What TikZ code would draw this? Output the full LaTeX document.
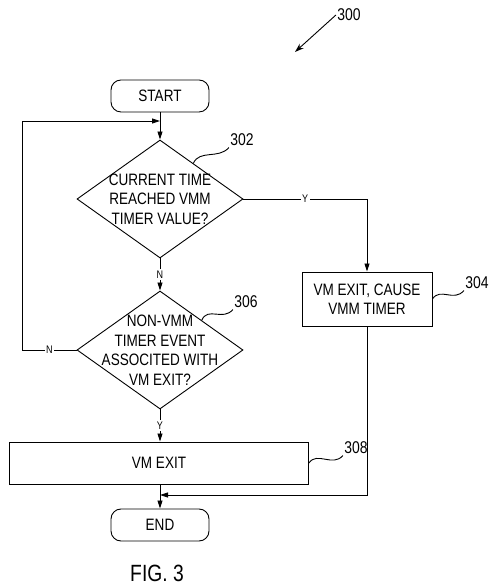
\documentclass[tikz,border=0pt]{standalone}
\usepackage{fontspec}
\setmainfont{Liberation Sans}[FakeStretch=0.82]
\usepackage{tikz}
\usetikzlibrary{shapes.geometric,arrows.meta,calc}
\newcommand{\bigtext}{\fontsize{16.5}{19.5}\selectfont}
\newcommand{\reftext}{\fontsize{17}{20}\selectfont}
\newcommand{\yntext}{\fontsize{11}{13}\selectfont}
\newcommand{\figtext}{\fontsize{23.5}{28}\selectfont}

\begin{document}
\begin{tikzpicture}[x=1pt, y=1pt, line width=0.9pt,
  >={Triangle[length=8pt,width=5pt]},
  term/.style={draw, rounded corners=10pt, minimum width=98pt, minimum height=32pt, font=\bigtext},
  stepbox/.style={draw, align=center, font=\bigtext},
  decision/.style={draw, diamond, inner sep=-20pt, align=center, font=\bigtext,
    minimum width=166pt, minimum height=118pt},
  ref/.style={inner sep=1pt, font=\reftext},
  yn/.style={fill=white, inner sep=1.5pt, font=\yntext}]
\useasboundingbox (0,0) rectangle (493,585);

\node[term] (start) at (160,489) {START};
\node[decision] (d302) at (160,386) {CURRENT TIME\\REACHED VMM\\TIMER VALUE?};
\node[stepbox, minimum width=130pt, minimum height=54pt] (b304) at (367,286) {VM EXIT, CAUSE\\VMM TIMER};
\node[decision] (d306) at (160,235) {NON-VMM\\TIMER EVENT\\ASSOCITED WITH\\VM EXIT?};
\node[stepbox, minimum width=299pt, minimum height=42pt] (b308) at (159,122) {VM EXIT};
\node[term] (end) at (160,60) {END};

\node[ref] (l300) at (349,570) {300};
\node[ref] (l302) at (242,445) {302};
\node[ref] (l304) at (477,302) {304};
\node[ref] (l306) at (246,283) {306};
\node[ref] (l308) at (356,137) {308};
\node[font=\figtext] (fig) at (157,12) {FIG. 3};

\coordinate (a300) at (295,533);
\coordinate (join) at (160,464);
\coordinate (merge) at (160,90);

\draw[-{Stealth[length=9pt,width=6pt]}] (l300.west) -- (a300);
\draw[->] (start) -- (d302);
\draw[->] (d302.east) -- node[yn] {Y} (d302.east -| b304.north) -- (b304.north);
\draw[->] (d302.south) -- node[yn] {N} (d306.north);
\draw[->] (d306.west) -- node[yn] {N} (22,235) -- (22,464) -- (join);
\draw[->] (d306.south) -- node[yn] {Y} (d306.south |- b308.north);
\draw[->] (d306.south |- b308.south) -- (end.north);
\draw[->] (b304.south) -- (b304.south |- merge) -- (merge);

% reference squiggles
\draw ($(d302.north)!0.4!(d302.east)$) .. controls +(6,14) and +(-10,-12) .. (l302.south west);
\draw (d306.north east) .. controls +(6,14) and +(-10,-12) .. (l306.south west);
\draw (b304.east) .. controls +(8,12) and +(-10,-12) .. (l304.south west);
\draw (b308.east) .. controls +(8,12) and +(-10,-12) .. (l308.south west);
\end{tikzpicture}
\end{document}
